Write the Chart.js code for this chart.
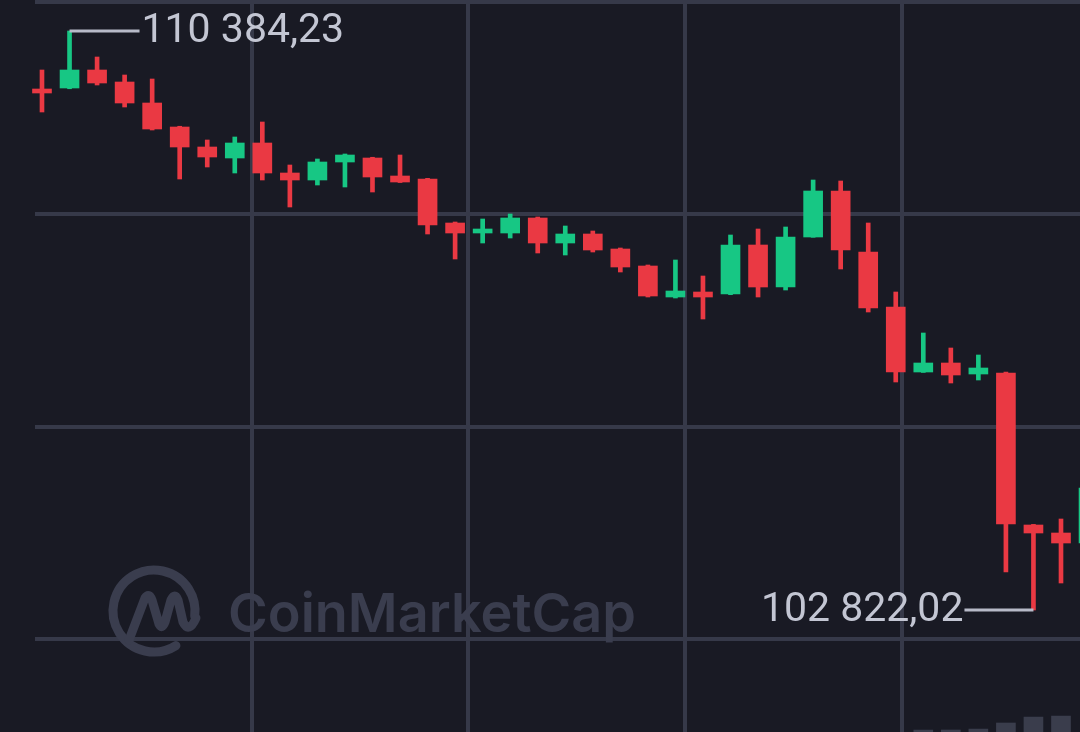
<!DOCTYPE html>
<html>
<head>
<meta charset="utf-8">
<script src="https://cdn.jsdelivr.net/npm/chart.js@4.4.1/dist/chart.umd.min.js"></script>
<style>
  html, body { margin: 0; padding: 0; background: #191a24; overflow: hidden; }
  #wrap { width: 1080px; height: 732px; }
</style>
</head>
<body>
<div id="wrap"><canvas id="myChart" width="1080" height="732"></canvas></div>
<script>
// candle slots, left to right
const slots = [0, 1, 2, 3, 4, 5, 6, 7, 8, 9, 10, 11, 12, 13, 14, 15, 16, 17, 18, 19,
    20, 21, 22, 23, 24, 25, 26, 27, 28, 29, 30, 31, 32, 33, 34, 35, 36, 37, 38];

const opens = [109626.69, 109639.75, 109874.85, 109718.12, 109443.84, 109130.37, 108869.15, 108725.48, 108921.40, 108529.57,
    108438.14, 108673.24, 108725.48, 108490.38, 108451.20, 107876.52, 107745.91, 107745.91, 107941.82, 107615.30,
    107732.85, 107536.93, 107314.89, 106910.00, 106975.31, 106949.19, 107589.17, 107040.61, 107693.66, 108294.47,
    107497.75, 106779.39, 105930.43, 106047.98, 105904.31, 105917.37, 103932.09, 103827.61, 103697.00];

const highs = [109874.85, 110384.23, 110044.64, 109809.54, 109757.30, 109140.00, 108960.58, 108999.76, 109195.68, 108634.05,
    108712.42, 108777.73, 108735.00, 108764.66, 108460.00, 107889.58, 107928.76, 107994.07, 107954.88, 107837.33,
    107772.03, 107549.99, 107327.95, 107393.26, 107184.28, 107719.78, 107798.15, 107824.27, 108438.14, 108425.08,
    107876.52, 106975.31, 106439.81, 106243.89, 106152.46, 105930.43, 103940.00, 104010.46, 104519.84];

const lows = [109326.29, 109630.00, 109678.93, 109391.59, 109091.19, 108451.20, 108607.93, 108529.57, 108438.14, 108085.49,
    108372.83, 108346.71, 108281.41, 108405.00, 107732.85, 107406.32, 107615.30, 107680.60, 107484.69, 107458.56,
    107497.75, 107236.53, 106910.00, 106896.94, 106622.66, 106940.00, 106910.00, 107001.43, 107690.00, 107275.71,
    106714.09, 105799.82, 105925.00, 105786.76, 105825.94, 103318.23, 102822.02, 103174.56, 103670.87];

const closes = [109574.45, 109874.85, 109705.06, 109443.84, 109104.25, 108869.15, 108738.54, 108921.40, 108529.57, 108438.14,
    108673.24, 108764.66, 108477.32, 108412.02, 107850.39, 107745.91, 107798.15, 107941.82, 107615.30, 107732.85,
    107523.87, 107301.83, 106923.06, 106988.37, 106910.00, 107589.17, 107040.61, 107693.66, 108294.47, 107523.87,
    106766.33, 105930.43, 106047.98, 105891.24, 105982.67, 103945.16, 103827.61, 103697.00, 104415.35];

// only the last few volume bars reach into the picture
const volumes = [null, null, null, null, null, null, null, null, null, null,
    null, null, null, null, null, null, null, null, null, null,
    null, null, null, null, null, null, null, null, null, null,
    null, null, 420, 420, 430, 490, 550, 560, null];

// grid positions (no labels shown)
const xGridSlots = [7.63, 15.47, 23.33, 31.23];
const yGridPrices = [110763, 107994, 105212, 102443];

const UP = '#17c784';
const DOWN = '#ea3943';
const GRID = '#363949';

const candleColors = slots.map(i => closes[i] >= opens[i] ? UP : DOWN);

function fmt(v) {
    const parts = v.toFixed(2).split('.');
    return parts[0].replace(/\B(?=(\d{3})+(?!\d))/g, ' ') + ',' + parts[1];
}

const watermark = {
    id: 'watermark',
    beforeDatasetsDraw(chart) {
        const ctx = chart.ctx;
        ctx.save();
        ctx.strokeStyle = '#3a3d4e';
        ctx.fillStyle = '#3a3d4e';
        ctx.lineWidth = 9;
        ctx.lineCap = 'round';
        ctx.lineJoin = 'round';
        ctx.beginPath();
        ctx.arc(154, 611, 41, 0.32 * Math.PI, 2.04 * Math.PI);
        ctx.stroke();
        ctx.beginPath();
        ctx.moveTo(129, 640);
        ctx.lineTo(145, 598);
        ctx.quadraticCurveTo(149, 592, 152, 600);
        ctx.lineTo(159, 624);
        ctx.quadraticCurveTo(162, 630, 165, 622);
        ctx.lineTo(171, 600);
        ctx.quadraticCurveTo(175, 592, 178, 600);
        ctx.lineTo(183, 622);
        ctx.quadraticCurveTo(189, 634, 196, 618);
        ctx.stroke();
        ctx.font = '600 56px Inter';
        const w = ctx.measureText('CoinMarketCap').width;
        const size = 56 * 408 / w;
        ctx.font = '600 ' + size.toFixed(1) + 'px Inter';
        ctx.textBaseline = 'alphabetic';
        ctx.textAlign = 'left';
        ctx.fillText('CoinMarketCap', 228, 632);
        ctx.restore();
    }
};

const extremes = {
    id: 'extremes',
    afterDatasetsDraw(chart) {
        const ctx = chart.ctx;
        const xs = chart.scales.x, ys = chart.scales.y;
        const hi = Math.max(...highs), lo = Math.min(...lows);
        const hiIdx = highs.indexOf(hi), loIdx = lows.indexOf(lo);
        ctx.save();
        ctx.strokeStyle = '#b7bac8';
        ctx.fillStyle = '#c3c6d3';
        ctx.lineWidth = 3;
        ctx.font = '41px Roboto';
        ctx.textBaseline = 'middle';

        let px = xs.getPixelForValue(slots[hiIdx]), py = ys.getPixelForValue(hi);
        ctx.beginPath();
        ctx.moveTo(px, py);
        ctx.lineTo(px + 70, py);
        ctx.stroke();
        ctx.textAlign = 'left';
        ctx.fillText(fmt(hi), px + 72, py + 1);

        px = xs.getPixelForValue(slots[loIdx]);
        py = ys.getPixelForValue(lo);
        ctx.beginPath();
        ctx.moveTo(px, py);
        ctx.lineTo(px - 69, py);
        ctx.stroke();
        ctx.textAlign = 'right';
        ctx.fillText(fmt(lo), px - 70, py + 1);
        ctx.restore();
    }
};

const data = {
    datasets: [{
        label: 'Body',
        data: slots.map(i => ({x: i, y: [opens[i], closes[i]]})),
        backgroundColor: candleColors,
        barThickness: 19,
        grouped: false,
        clip: false,
        order: 1
    }, {
        label: 'Wick',
        data: slots.map(i => ({x: i, y: [lows[i], highs[i]]})),
        backgroundColor: candleColors,
        barThickness: 4,
        grouped: false,
        clip: false,
        order: 2
    }, {
        label: 'Volume',
        data: slots.map(i => ({x: i, y: volumes[i]})),
        backgroundColor: '#3a3d4c',
        barThickness: 19,
        grouped: false,
        yAxisID: 'v',
        clip: false,
        order: 3
    }]
};

const config = {
    type: 'bar',
    data: data,
    options: {
        responsive: false,
        animation: false,
        layout: { padding: { left: 35, top: 0, right: 0, bottom: 0 } },
        plugins: {
            legend: { display: false },
            tooltip: { enabled: false }
        },
        scales: {
            x: {
                type: 'linear',
                min: -0.254,
                max: 37.69,
                offset: false,
                afterBuildTicks: scale => { scale.ticks = xGridSlots.map(v => ({value: v})); },
                ticks: { display: false },
                grid: { color: GRID, lineWidth: 4, drawTicks: false, offset: false },
                border: { display: false }
            },
            y: {
                type: 'linear',
                min: 101228.47,
                max: 110789.12,
                afterBuildTicks: scale => { scale.ticks = yGridPrices.map(v => ({value: v})); },
                ticks: { display: false },
                grid: { color: GRID, lineWidth: 4, drawTicks: false },
                border: { display: false }
            },
            v: {
                type: 'linear',
                display: false,
                min: 400,
                max: 7720
            }
        }
    },
    plugins: [watermark, extremes]
};

const ctx = document.getElementById('myChart').getContext('2d');
new Chart(ctx, config);
</script>
</body>
</html>
